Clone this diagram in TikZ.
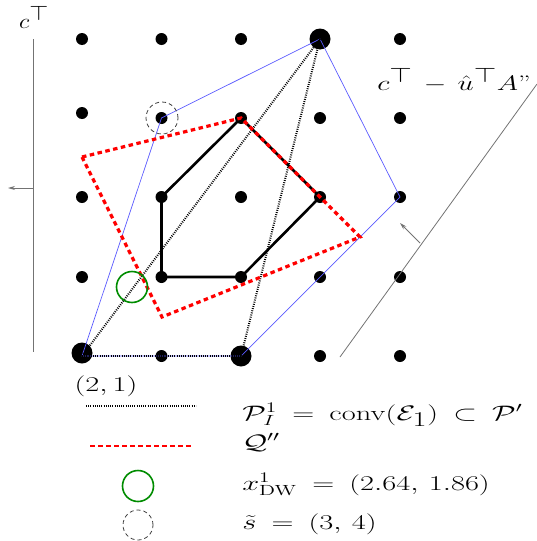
\RequirePackage{fix-cm}
\documentclass[tikz,border=0pt]{standalone}
\usepackage{amsmath}
\usetikzlibrary{arrows.meta}
\begin{document}
\thickmuskip=9mu plus 2mu\relax
\medmuskip=7mu plus 2mu\relax
\begin{tikzpicture}[x=1pt,y=-1pt,
  dot/.style={circle,fill=black,inner sep=0pt,minimum size=12pt},
  bigdot/.style={circle,fill=black,inner sep=0pt,minimum size=21pt},
  bluepoly/.style={draw=blue!65,line width=0.7pt},
  dotline/.style={draw=black,line width=2pt,dash pattern=on 0.9pt off 1.3pt},
  redline/.style={draw=red,line width=3.2pt,dash pattern=on 4.5pt off 3.5pt},
  blackpoly/.style={draw=black,line width=2.6pt,line join=round},
  axisline/.style={draw=black!55,line width=0.8pt},
  greencirc/.style={circle,draw=green!55!black,line width=1.6pt,minimum size=31pt,inner sep=0pt},
  dashcirc/.style={circle,draw=black!75,line width=0.8pt,dash pattern=on 4pt off 3pt,minimum size=32pt,inner sep=0pt},
  lbl/.style={font=\fontsize{21}{25}\selectfont,inner sep=0pt,anchor=base west,xscale=1.45}]
\useasboundingbox (0,0) rectangle (536,541);
% lattice coordinates
\foreach \i/\x in {0/82,1/161.5,2/241,3/320,4/400}
  \foreach \j/\y in {0/356,1/277,2/197,3/118,4/39}
    \coordinate (p\i\j) at (\x,\y);
% dots
\foreach \i in {1,3,4}
  \node[dot] (d\i0) at (p\i0) {};
\foreach \i in {0,1,2,3,4}
  \foreach \j in {1,2}
    \node[dot] (d\i\j) at (p\i\j) {};
\foreach \i in {1,2,3,4}
  \node[dot] (d\i3) at (p\i3) {};
\node[dot] (d03) at (82,113) {};
\foreach \i in {0,1,2,4}
  \node[dot] (d\i4) at (p\i4) {};
\node[bigdot] (d00) at (82,353) {};
\node[bigdot] (d20) at (p20) {};
\node[bigdot] (d34) at (p34) {};
% axis on the left
\coordinate (axt) at (33,39);
\coordinate (axb) at (33,352);
\coordinate (ara) at (33,188);
\coordinate (arb) at (8,188);
\draw[axisline] (axt) -- (axb);
\draw[axisline,-{Stealth[length=7pt,width=4pt]}] (ara) -- (arb);
\node[lbl,xscale=0.8] (ctop) at (19,28) {$c^{\textstyle\top}$};
% objective line on the right
\coordinate (rl1) at (340,357);
\coordinate (rl2) at (537,84);
\coordinate (ra1) at (420,243);
\coordinate (ra2) at (400,223);
\draw[axisline] (rl1) -- (rl2);
\draw[axisline,-{Stealth[length=7pt,width=4pt]}] (ra1) -- (ra2);
\node[lbl,xscale=0.95] (cu) at (377,90) {$c^{\textstyle\top} - \hat{u}^{\textstyle\top} A$''};
% blue polygon P'
\draw[bluepoly] (p00) -- (p13) -- (p34) -- (p42) -- (p20) -- cycle;
% dotted triangle conv(E1)
\draw[dotline] (p00) -- (p34);
\draw[dotline] (p20) -- (p34);
\draw[dotline] (p00) -- (p20);
% black polygon
\draw[blackpoly] (p11) -- (p21) -- (p32) -- (p23) -- (p12) -- cycle;
% red Q''
\coordinate (q1) at (82,157);
\coordinate (q3) at (360,237);
\coordinate (q4) at (162,317);
\draw[redline] (q1) -- (p23) -- (q3) -- (q4) -- cycle;
% circles
\node[greencirc] (xdw) at (132,287) {};
\node[dashcirc] (stil) at (162,118) {};
% legend
\node[lbl,anchor=base] (l21) at (106,391) {$(2,1)$};
\coordinate (ld1) at (86,406);
\coordinate (ld2) at (196,406);
\draw[dotline,line width=1.6pt] (ld1) -- (ld2);
\coordinate (lr1) at (90,446);
\coordinate (lr2) at (191,446);
\draw[redline,line width=2.8pt] (lr1) -- (lr2);
\node[greencirc] (lg) at (138,486) {};
\node[dashcirc,minimum size=30pt] (ls) at (138,525) {};
\node[lbl] (t1) at (242,420) {$\mathcal{P}_I^1 = \mathrm{conv}(\mathcal{E}_{\textstyle 1}) \subset \mathcal{P}'$};
\node[lbl] (t2) at (242,449) {$\mathcal{Q}''$};
\node[lbl] (t3) at (242,490) {$x^1_{\mathrm{DW}} = (2.64,\,1.86)$};
\node[lbl] (t4) at (242,529) {$\tilde{s} = (3,\,4)$};
\end{tikzpicture}
\end{document}
